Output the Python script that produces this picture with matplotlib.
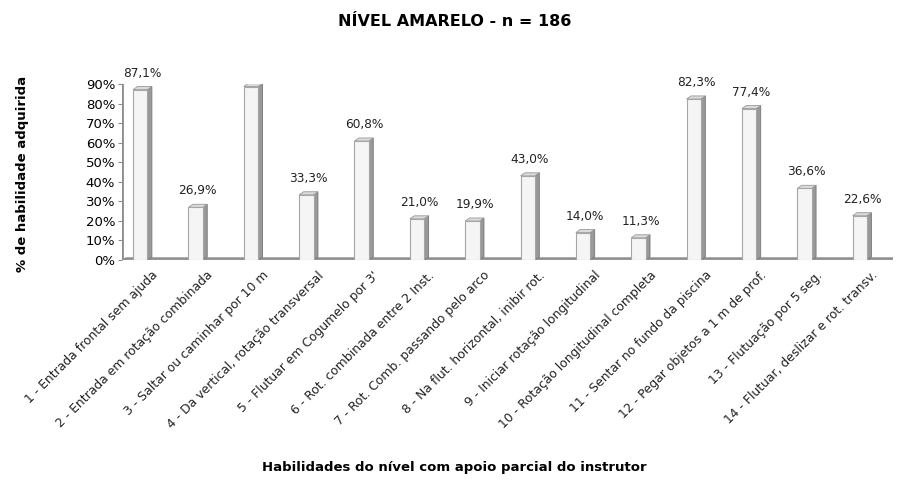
import numpy as np
import matplotlib.pyplot as plt
from matplotlib.patches import Polygon

habilidades = [
    "1 - Entrada frontal sem ajuda",
    "2 - Entrada em rotação combinada",
    "3 - Saltar ou caminhar por 10 m",
    "4 - Da vertical, rotação transversal",
    "5 - Flutuar em Cogumelo por 3'",
    "6 - Rot. combinada entre 2 Inst.",
    "7 - Rot. Comb. passando pelo arco",
    "8 - Na flut. horizontal, inibir rot.",
    "9 - Iniciar rotação longitudinal",
    "10 - Rotação longitudinal completa",
    "11 - Sentar no fundo da piscina",
    "12 - Pegar objetos a 1 m de prof.",
    "13 - Flutuação por 5 seg.",
    "14 - Flutuar, deslizar e rot. transv.",
]
valores = [87.1, 26.9, 88.7, 33.3, 60.8, 21.0, 19.9, 43.0, 14.0, 11.3, 82.3, 77.4, 36.6, 22.6]
yticks = [0, 10, 20, 30, 40, 50, 60, 70, 80, 90]

plt.rcParams['font.family'] = ['DejaVu Sans']

fig = plt.figure(figsize=(8.97, 4.82), dpi=100)
ax = fig.add_axes([122/897, 222/482, 771/897, 176/482])

x = np.arange(len(valores))
w = 0.26
dx = 0.08   # depth in x (data units)
dy = 1.6    # depth in y (percent units)

# floor and wall of the 3D look
ax.add_patch(Polygon([(-0.33, 0), (13.6, 0), (13.6 + dx, dy * 0.6), (-0.33 + dx, dy * 0.6)],
                     closed=True, facecolor='#D9D9D9', edgecolor='#8C8C8C', lw=1.2, zorder=1))
ax.plot([-0.33, -0.33], [0, 90], color='#8C8C8C', lw=2, zorder=1)

for xi, v in zip(x, valores):
    left = xi - w / 2
    right = xi + w / 2
    # side face
    ax.add_patch(Polygon([(right, 0), (right + dx, dy), (right + dx, v + dy), (right, v)],
                         closed=True, facecolor='#999999', edgecolor='#777777', lw=0.6, zorder=2))
    # top face
    ax.add_patch(Polygon([(left, v), (right, v), (right + dx, v + dy), (left + dx, v + dy)],
                         closed=True, facecolor='#DADADA', edgecolor='#999999', lw=0.6, zorder=2))
    # front face
    ax.bar(xi, v, width=w, color='#F5F5F5', edgecolor='#A6A6A6', lw=0.8, zorder=3)
    ax.annotate(f"{v:.1f}%".replace('.', ','), (xi + dx / 2, v + dy), xytext=(0, 5),
                textcoords='offset points', ha='center', va='bottom', fontsize=8.7, color='#222222')

ax.set_xlim(-0.33, 13.6)
ax.set_ylim(0, 90)
ax.set_yticks(yticks)
ax.set_yticklabels([f"{t}%" for t in yticks], fontsize=9.5)
ax.tick_params(axis='y', length=3, color='#8C8C8C', pad=2)
ax.set_xticks([])
for s in ax.spines.values():
    s.set_visible(False)

for xi, lab in zip(x, habilidades):
    ax.text(xi + 0.2, -0.05, lab, transform=ax.get_xaxis_transform(), rotation=45,
            ha='right', va='top', rotation_mode='anchor', fontsize=8.9, color='#222222')

fig.text(0.507, 0.955, "NÍVEL AMARELO - n = 186", ha='center', va='center',
         fontsize=11.5, fontweight='bold')
fig.text(0.507, 0.03, "Habilidades do nível com apoio parcial do instrutor", ha='center',
         va='center', fontsize=9.5, fontweight='bold')
fig.text(0.025, 0.64, "% de habilidade adquirida", ha='center', va='center', rotation=90,
         fontsize=9.5, fontweight='bold')

fig.savefig("out.png", dpi=100)
